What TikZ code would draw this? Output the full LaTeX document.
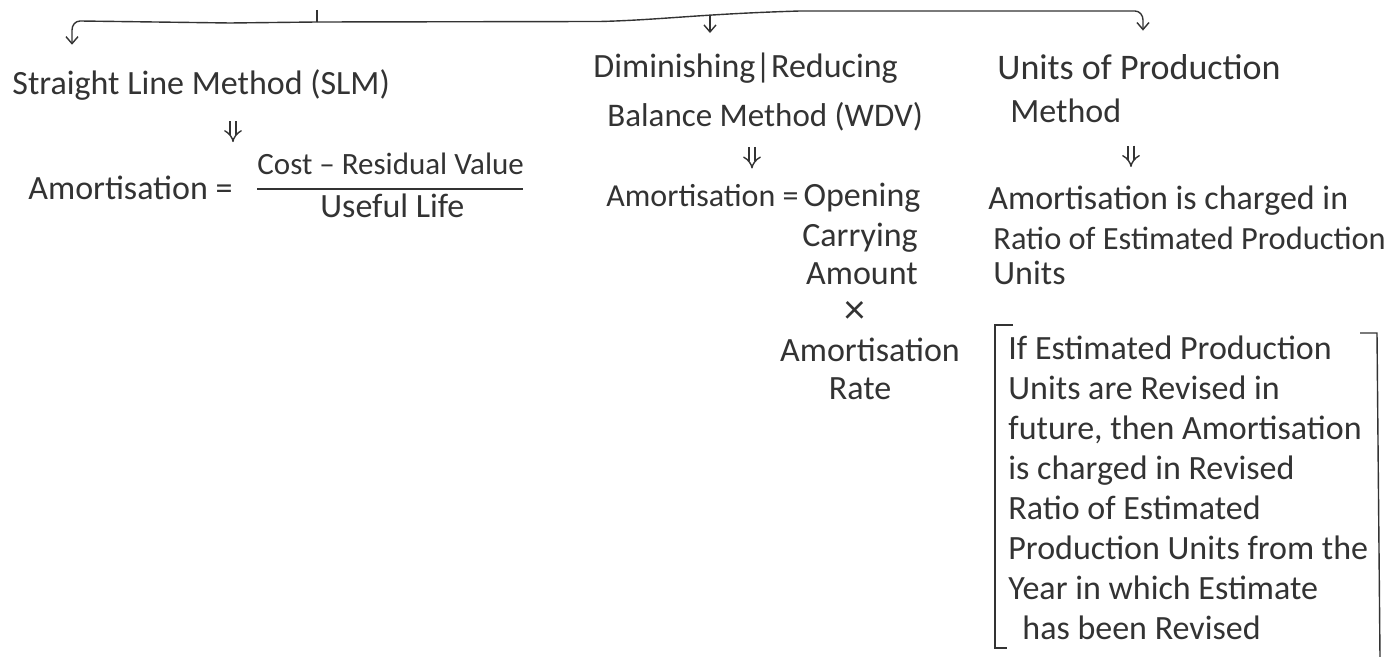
\documentclass[tikz,border=0pt]{standalone}
\usepackage{fontspec}
\setmainfont{Carlito}
\usetikzlibrary{arrows.meta}
\definecolor{ink}{HTML}{333333}
\tikzset{
  hand/.style={font=\fontsize{17}{20}\selectfont, inner sep=0pt, anchor=base west, text=ink},
  branch/.style={draw=ink, line width=0.7pt, -{Straight Barb[length=3.5pt,width=6pt]}},
  implies/.style={draw=ink, double, double distance=2.4pt, line width=0.7pt, -{Implies}},
  pen/.style={draw=ink, line width=0.7pt},
}
\begin{document}
\begin{tikzpicture}[x=0.5pt, y=-0.5pt]
    \useasboundingbox (0,0) rectangle (1394,657);
    % Straight Line Method
    \node[hand] (slm) at (12,95) {Straight Line Method (SLM)};
    \node[hand] (slmeq) at (28,200) {Amortisation =};
    \node[hand, font=\fontsize{15.5}{20}\selectfont] (slmnum) at (257,175) {Cost – Residual Value};
    \node[hand] (slmden) at (320,218) {Useful Life};
    \draw[pen] (257,189) -- (523,189);
    % Diminishing / Reducing Balance
    \node[hand] (wdvtop) at (593,78) {Diminishing|Reducing};
    \node[hand, font=\fontsize{16.5}{20}\selectfont] (wdv) at (607,127) {Balance Method (WDV)};
    \node[hand, font=\fontsize{16}{20}\selectfont] (wdveq) at (606,207) {Amortisation =};
    \node[hand, anchor=base] (wdvopen) at (862,207) {Opening};
    \node[hand, anchor=base] (wdvcarry) at (860,247) {Carrying};
    \node[hand, anchor=base] (wdvamt) at (862,285) {Amount};
    \node[hand, anchor=base, font=\fontsize{21}{22}\selectfont] (wdvtimes) at (855,324) {×};
    \node[hand, anchor=base] (wdvrate) at (870,362) {Amortisation};
    \node[hand, anchor=base] (wdvrate2) at (860,400) {Rate};
    % Units of Production
    \node[hand, font=\fontsize{18}{20}\selectfont] (upm) at (997,80) {Units of Production};
    \node[hand] (upm2) at (1010,123) {Method};
    \node[hand] (upmeq) at (988,210) {Amortisation is charged in};
    \node[hand, font=\fontsize{16.2}{20}\selectfont] (upmeq2) at (993,250) {Ratio of Estimated Production};
    \node[hand] (upmeq3) at (993,285) {Units};
    \node[hand, anchor=north west, align=left] (revise) at (1008,335)
      {If Estimated Production\\Units are Revised in\\future, then Amortisation\\is charged in Revised\\Ratio of Estimated\\Production Units from the\\Year in which Estimate\\\hspace*{7pt}has been Revised};
    \draw[pen] (1013,325) -- (995,325) -- (995,648) -- (1007,648);
    \draw[pen] (1360,333) -- (1377,333) -- (1380,657);
    % branches
    \coordinate (stem) at (317,10);
    \coordinate (hub) at (317,22);
    \coordinate (midfork) at (710,16);
    \coordinate (lftx) at (72,0);
    \coordinate (midx) at (710,0);
    \coordinate (rgtx) at (1143,0);
    \draw[pen] (stem) -- (hub);
    \draw[branch, shorten >=12.5pt] (hub) -- (230,23) -- (80,21) to[out=180, in=90] (72,30) -- (slm.north -| lftx);
    \draw[branch, shorten >=12pt] (hub) -- (600,21.5) .. controls (660,20) and (700,14) .. (800,11) -- (1135,11) to[out=0, in=90] (1143,20) -- (upm.north -| rgtx);
    \draw[branch, shorten >=10pt] (midfork) -- (wdvtop.north -| midx);
    % double arrows
    \coordinate (slmx) at (233,0);
    \coordinate (wdvx) at (752,0);
    \coordinate (upmx) at (1131,0);
    \draw[implies, shorten <=10pt, shorten >=17pt] (slm.south -| slmx) -- (slmeq.north -| slmx);
    \draw[implies, shorten <=7.5pt, shorten >=8pt] (wdv.south -| wdvx) -- (wdveq.north -| wdvx);
    \draw[implies, shorten <=11pt, shorten >=9.5pt] (upm2.south -| upmx) -- (upmeq.north -| upmx);
\end{tikzpicture}
\end{document}
